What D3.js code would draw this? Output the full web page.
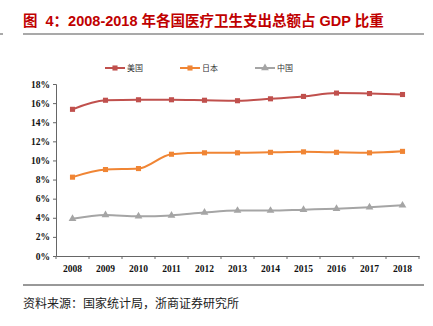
<!DOCTYPE html>
<html>
<head>
<meta charset="utf-8">
<script src="https://cdn.jsdelivr.net/npm/d3@7"></script>
<style>
  body { margin: 0; background: #fff; }
  svg { display: block; }
  .axis text { font-family: 'Liberation Serif', 'Times New Roman', serif; font-weight: bold; font-size: 9.5px; fill: #111; }
</style>
</head>
<body>
<div id="chart"></div>
<script>
// data
const years = ["2008", "2009", "2010", "2011", "2012", "2013", "2014", "2015", "2016", "2017", "2018"];
const usa = [15.35, 16.3, 16.35, 16.35, 16.3, 16.25, 16.45, 16.7, 17.05, 17.0, 16.9];
const japan = [8.25, 9.05, 9.15, 10.65, 10.8, 10.8, 10.85, 10.9, 10.85, 10.8, 10.95];
const china = [3.9, 4.3, 4.15, 4.25, 4.55, 4.75, 4.75, 4.85, 4.95, 5.1, 5.3];
const yTicks = [0, 2, 4, 6, 8, 10, 12, 14, 16, 18];

const series = [
  { name: "美国", values: usa, color: "#C0504D", shape: "square" },
  { name: "日本", values: japan, color: "#F08534", shape: "square" },
  { name: "中国", values: china, color: "#A5A5A5", shape: "triangle" },
];

const svgWidth = 433;
const svgHeight = 326;
const margin = { top: 84, right: 14, bottom: 70, left: 56 };
const chartWidth = svgWidth - margin.left - margin.right;
const chartHeight = svgHeight - margin.top - margin.bottom;

const svg = d3.select("#chart")
  .append("svg")
  .attr("width", svgWidth)
  .attr("height", svgHeight);

// title + rules
svg.append("text")
  .attr("x", 23)
  .attr("y", 26)
  .attr("fill", "#C00000")
  .attr("font-family", "'Liberation Sans', 'Noto Sans CJK SC', sans-serif")
  .attr("font-weight", "bold")
  .attr("font-size", 14.5)
  .text("图\u00a0\u00a04：2008-2018 年各国医疗卫生支出总额占 GDP 比重");

svg.append("line")
  .attr("x1", 23).attr("x2", 424)
  .attr("y1", 34).attr("y2", 34)
  .attr("stroke", "#555").attr("stroke-width", 1.2);

svg.append("line")
  .attr("x1", 0).attr("x2", 3)
  .attr("y1", 34).attr("y2", 34)
  .attr("stroke", "#555");

svg.append("line")
  .attr("x1", 23).attr("x2", 424)
  .attr("y1", 285).attr("y2", 285)
  .attr("stroke", "#333").attr("stroke-width", 1);

svg.append("text")
  .attr("x", 23)
  .attr("y", 308)
  .attr("fill", "#222")
  .attr("font-family", "'Noto Sans CJK SC', sans-serif")
  .attr("font-size", 12)
  .text("资料来源：国家统计局，浙商证券研究所");

const chartG = svg.append("g")
  .attr("transform", `translate(${margin.left}, ${margin.top})`);

const x = d3.scaleBand()
  .domain(years)
  .range([0, chartWidth]);

const y = d3.scaleLinear()
  .domain([0, 18])
  .range([chartHeight, 0]);

// y axis
const yAxisG = chartG.append("g")
  .attr("class", "axis")
  .call(d3.axisLeft(y).tickValues(yTicks).tickSize(3).tickFormat(d => d + "%"));

// x axis
const xAxisG = chartG.append("g")
  .attr("class", "axis")
  .attr("transform", `translate(0, ${chartHeight})`)
  .call(d3.axisBottom(x).tickSize(0).tickPadding(9));

xAxisG.selectAll(".bound")
  .data(years.concat(["end"]))
  .enter()
  .append("line")
  .attr("class", "bound")
  .attr("x1", (d, i) => i * x.step())
  .attr("x2", (d, i) => i * x.step())
  .attr("y1", 0).attr("y2", 3)
  .attr("stroke", "#666");

[yAxisG, xAxisG].forEach(g => {
  g.attr("font-family", null).attr("font-size", null);
  g.select(".domain").attr("stroke", "#666");
  g.selectAll(".tick line").attr("stroke", "#666");
});

const line = d3.line()
  .x((d, i) => x(years[i]) + x.bandwidth() / 2)
  .y(d => y(d))
  .curve(d3.curveMonotoneX);

const square = d3.symbol().type(d3.symbolSquare).size(26);
const triangle = d3.symbol().type(d3.symbolTriangle).size(26);

series.forEach(s => {
  chartG.append("path")
    .datum(s.values)
    .attr("fill", "none")
    .attr("stroke", s.color)
    .attr("stroke-width", 2)
    .attr("d", line);

  chartG.selectAll(null)
    .data(s.values)
    .enter()
    .append("path")
    .attr("d", s.shape === "square" ? square : triangle)
    .attr("transform", (d, i) => `translate(${x(years[i]) + x.bandwidth() / 2}, ${y(d)})`)
    .attr("fill", s.color);
});

// legend
const legend = svg.append("g")
  .attr("transform", "translate(105, 68)");

series.forEach((s, i) => {
  const g = legend.append("g")
    .attr("transform", `translate(${i * 75}, 0)`);
  g.append("line")
    .attr("x1", 0).attr("x2", 20)
    .attr("stroke", s.color)
    .attr("stroke-width", 2);
  g.append("path")
    .attr("d", s.shape === "square" ? square : triangle)
    .attr("transform", "translate(10, 0)")
    .attr("fill", s.color);
  g.append("text")
    .attr("x", 22)
    .attr("y", 3)
    .attr("font-family", "'Noto Sans CJK SC', sans-serif")
    .attr("font-size", 8)
    .attr("fill", "#333")
    .text(s.name);
});
</script>
</body>
</html>
